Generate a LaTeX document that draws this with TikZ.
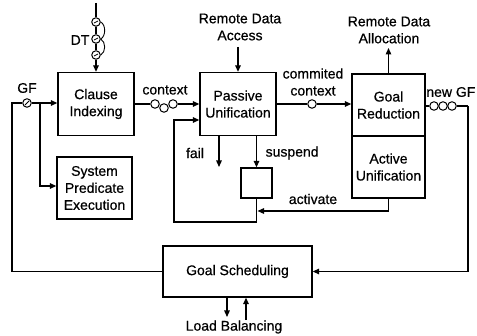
\documentclass[tikz,border=0pt]{standalone}
\usepackage{fontspec}
\setmainfont[FakeBold=0.6]{Liberation Sans}
\usetikzlibrary{arrows.meta}
\begin{document}
\begin{tikzpicture}[x=1pt,y=-1pt,
  line width=1.3pt,
  font=\fontsize{14}{17}\selectfont,
  arr/.style={-{Triangle[length=6.5pt,width=5.5pt]}},
  blk/.style={draw,rectangle,align=center,inner sep=0pt},
  tok/.style={draw,circle,minimum size=8.5pt,inner sep=0pt,line width=1pt,fill=white},
  lbl/.style={inner sep=0pt,align=center}]
\useasboundingbox (0,0) rectangle (477,336);

% processing blocks
\node[blk,minimum width=76pt,minimum height=63pt] (ci) at (96,104) {Clause\\Indexing};
\node[blk,minimum width=75pt,minimum height=62pt] (spe) at (94.5,188) {System\\Predicate\\Execution};
\node[blk,minimum width=76pt,minimum height=63pt] (pu) at (238,104) {Passive\\Unification};
\node[blk,minimum width=73pt,minimum height=62pt] (gr) at (388.5,105) {Goal\\Reduction};
\node[blk,minimum width=73pt,minimum height=62pt] (au) at (388.5,167) {Active\\Unification};
\node[blk,minimum width=31pt,minimum height=30pt] (sb) at (256.5,183) {};
\node[blk,minimum width=149pt,minimum height=51pt] (gs) at (237.5,271.5) {Goal Scheduling};

% GF input and feedback loop from goal scheduling
\node[tok] (gf) at (27,103) {};
\draw[line width=0.8pt] (gf.center)+(-2,2) -- +(2,-2);
\node[lbl] (gfl) at (27,88) {GF};
\coordinate (gfc) at (12,103);
\coordinate (br) at (40,103);
\coordinate (brd) at (40,186);
\draw (gs.west) -| (gfc) -- (gf);
\draw[arr] (gf) -- (ci.west |- gf);
\draw[arr] (br) -- (brd) -- (spe.west |- brd);

% DT token chain
\coordinate (dttop) at (96,3);
\node[tok] (d1) at (96,22) {};
\node[tok] (d2) at (96,39) {};
\node[tok] (d3) at (96,55) {};
\foreach \d in {d1,d2,d3} \draw[line width=0.8pt] (\d.center)+(-2,1) -- +(2,-1);
\draw (dttop) -- (d1);
\draw (d1) -- (d2);
\draw (d2) -- (d3);
\draw[arr] (d3) -- (ci.north);
\draw[line width=0.9pt] (d1.east) .. controls (106,25) and (106,36) .. (d2.east);
\draw[line width=0.9pt] (d2.east) .. controls (106,42) and (106,52) .. (d3.east);
\node[lbl] (dtl) at (80,40) {DT};

% context tokens
\node[tok] (c1) at (155,104) {};
\node[tok] (c3) at (173,104) {};
\node[tok] (c2) at (164,108) {};
\node[lbl] (cl) at (165,90) {context};
\draw (ci.east |- c1) -- (c1);
\draw[arr] (c3) -- (pu.west |- c3);

% remote data access
\node[lbl] (rda) at (240,27) {Remote Data\\Access};
\coordinate (rdat) at (238,47);
\draw[arr] (rdat) -- (pu.north);

% committed context
\node[tok] (cc) at (312,104) {};
\node[lbl] (ccl) at (313,82) {commited\\context};
\draw (pu.east |- cc) -- (cc);
\draw[arr] (cc) -- (gr.west |- cc);

% remote data allocation
\node[lbl] (rdl) at (389,30) {Remote Data\\Allocation};
\coordinate (rdlb) at (388.5,48);
\draw[arr] (gr.north) -- (rdlb);

% new GF tokens back to goal scheduling
\node[tok] (n1) at (434,106) {};
\node[tok] (n2) at (443,106) {};
\node[tok] (n3) at (452,106) {};
\node[lbl,anchor=east] (nl) at (476,92) {new GF};
\coordinate (nr) at (468,106);
\draw (gr.east |- n1) -- (n1);
\draw (n3) -- (nr);
\draw[arr] (nr) |- (gs.east);

% fail / suspend / activate
\coordinate (failend) at (219,167);
\draw[arr] (pu.south -| failend) -- (failend);
\node[lbl] (fl) at (195,153) {fail};
\draw[arr] (pu.south -| sb.north) -- (sb.north);
\node[lbl,anchor=west] (sl) at (265,153) {suspend};
\coordinate (loopbl) at (174,222);
\coordinate (loopin) at (174,120);
\draw[arr] (sb.south) |- (loopbl) -- (loopin) -- (pu.west |- loopin);
\coordinate (actend) at (257.5,211);
\draw[arr] (au.south) |- (actend);
\node[lbl] (al) at (313,199) {activate};

% load balancing
\coordinate (lbd) at (227,317);
\coordinate (lbu) at (246,320);
\draw[arr] (gs.south -| lbd) -- (lbd);
\draw[arr] (lbu) -- (gs.south -| lbu);
\node[lbl] (lbl) at (234,327) {Load Balancing};
\end{tikzpicture}
\end{document}
